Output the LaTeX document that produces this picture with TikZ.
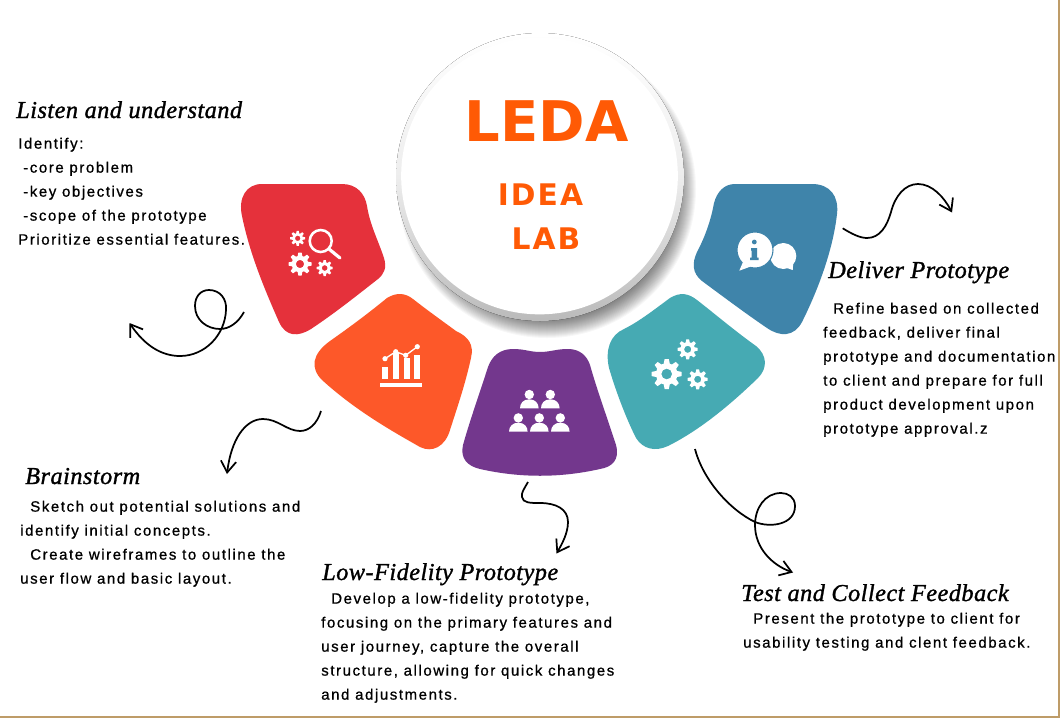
\documentclass[tikz,border=0pt]{standalone}
\usepackage{fontspec}
\usetikzlibrary{arrows.meta}
\usetikzlibrary{positioning}

\newfontfamily\bodyfont[LetterSpace=10.5,FakeBold=0.8]{Liberation Sans}
\newfontfamily\handfont[LetterSpace=2,FakeBold=1.2]{Liberation Serif}
\newfontfamily\titlefont{DejaVu Sans}
\newfontfamily\subtitlefont[LetterSpace=7]{DejaVu Sans}

\definecolor{ledared}{HTML}{E5313B}
\definecolor{ledaorange}{HTML}{FD5829}
\definecolor{ledapurple}{HTML}{73378D}
\definecolor{ledateal}{HTML}{46AAB3}
\definecolor{ledablue}{HTML}{3F84AA}
\definecolor{ledatitle}{HTML}{FF5A05}
\definecolor{ledatan}{HTML}{BE9C68}

\begin{document}
\begin{tikzpicture}[x=0.75pt,y=-0.75pt,
  headline/.style={anchor=base west,inner sep=0pt,font=\handfont\itshape\fontsize{18.2}{22}\selectfont},
  bodytext/.style={anchor=north west,inner sep=0pt,align=left,
   font=\bodyfont\fontsize{11.25}{18}\selectfont},
  squiggle/.style={line width=1.3pt,-{Straight Barb[length=8.5pt,width=11.5pt]}},
  gearicon/.pic={
   \fill[white,even odd rule] (0,0) circle (0.72) (0,0) circle (0.36);
   \foreach \ang in {0,45,...,315}
    \fill[white,rotate=\ang] (-0.22,0.6) -- (-0.14,1) -- (0.14,1) -- (0.22,0.6) -- cycle;
  }]

 \useasboundingbox (0,0) rectangle (1060,718);
 \fill[white] (0,0) rectangle (1060,718);
 \fill[ledatan] (0,716) rectangle (1059.7,718);
 \fill[ledatan] (1058.3,0) rectangle (1059.7,718);

 \foreach \rad in {131,132,...,149}
  \fill[black,opacity=0.03] (547,189) circle (\rad);
 \fill[top color=white,bottom color=black!27,middle color=black!7] (540,177) circle (144);
 \node[circle,fill=white,minimum size=207.5pt,inner sep=0pt] (hub) at (539.5,176) {};

 \node[inner sep=0pt,text=ledatitle,font=\titlefont\bfseries\fontsize{42}{48}\selectfont] (leda) at (546.5,121.5) {LEDA};
 \node[inner sep=0pt,text=ledatitle,font=\subtitlefont\bfseries\fontsize{22.3}{26}\selectfont] (idea) at (540.5,195) {IDEA};
 \node[inner sep=0pt,text=ledatitle,font=\subtitlefont\bfseries\fontsize{22.3}{26}\selectfont] (lab) at (546,239) {LAB};

 \fill[ledared] (262,184) -- (342,184) .. controls (357,184) and (365,194) .. (367,206)
  .. controls (370,225) and (378,240) .. (384,258) .. controls (387,268) and (384,274) .. (378,279)
  .. controls (355,297) and (335,313) .. (311,329) .. controls (298,337) and (286,337) .. (279,322)
  .. controls (265,290) and (250,255) .. (242,216) .. controls (238,198) and (246,184) .. (262,184) -- cycle;
 \fill[ledaorange] (330,341) .. controls (350,327) and (370,312) .. (387,298)
  .. controls (397,292) and (405,293) .. (413,299) .. controls (427,310) and (441,320) .. (456,331)
  .. controls (469,337) and (474,345) .. (471,358) .. controls (465,385) and (458,405) .. (450,430)
  .. controls (445,447) and (432,453) .. (420,447) .. controls (390,430) and (355,410) .. (322,380)
  .. controls (310,368) and (312,354) .. (330,341) -- cycle;
 \fill[ledapurple] (513,349) .. controls (525,349) and (530,352) .. (540,352)
  .. controls (550,352) and (556,349) .. (568,349) .. controls (580,349) and (587,356) .. (590,365)
  .. controls (597,390) and (608,420) .. (616,445) .. controls (620,460) and (612,467) .. (600,469)
  .. controls (560,478) and (520,478) .. (480,469) .. controls (467,466) and (460,458) .. (463,445)
  .. controls (470,420) and (480,392) .. (488,367) .. controls (492,356) and (500,349) .. (513,349) -- cycle;
 \fill[ledateal] (624,329) .. controls (640,321) and (655,309) .. (670,298)
  .. controls (680,292) and (688,293) .. (697,300) .. controls (715,314) and (735,331) .. (756,346)
  .. controls (767,355) and (768,368) .. (758,378) .. controls (730,405) and (700,430) .. (668,446)
  .. controls (655,452) and (643,449) .. (636,438) .. controls (627,420) and (617,395) .. (609,368)
  .. controls (605,350) and (610,335) .. (624,329) -- cycle;
 \fill[ledablue] (735,184) -- (812,184) .. controls (830,184) and (839,196) .. (837,214)
  .. controls (833,250) and (818,290) .. (802,322) .. controls (794,337) and (780,337) .. (767,328)
  .. controls (745,313) and (725,298) .. (702,281) .. controls (692,273) and (692,263) .. (697,252)
  .. controls (705,237) and (711,220) .. (714,203) .. controls (717,192) and (724,184) .. (735,184) -- cycle;

 \pic[scale=7.5] at (297.7,238.3) {gearicon};
 \pic[scale=11.5] at (300,264) {gearicon};
 \pic[scale=8] at (324.7,268) {gearicon};
 \draw[white,line width=1.9pt] (320.7,241) circle (11);
 \draw[white,line width=2.4pt,line cap=round] (329,249) -- (340,258);

 \fill[white] (380,383.3) rectangle (422.3,387.3);
 \foreach \barx/\bartop in {382.3/367,393.3/353,404/358,414.3/355}
  \fill[white] (\barx,\bartop) rectangle ++(5.6,379.3-\bartop);
 \draw[white,line width=1pt] (385,358.7) -- (395.7,351.7) -- (405.7,355.3) -- (417.3,346.7);
 \foreach \dotx/\doty in {385/358.7,395.7/351.7,405.7/355.3,417.3/346.7}
  \fill[white] (\dotx,\doty) circle (2.6);

 \foreach \px/\py in {529.3/408.3,550.3/408.3,518.3/431.7,539.3/431.7,560.3/431.7}{
  \fill[white] (\px,\py-13.8) circle (4.7);
  \fill[white] (\px-9.3,\py) .. controls (\px-9.3,\py-5) and (\px-6,\py-9) .. (\px,\py-9)
   .. controls (\px+6,\py-9) and (\px+9.3,\py-5) .. (\px+9.3,\py) -- cycle;
 }

 \pic[scale=15] at (666.7,374) {gearicon};
 \pic[scale=10] at (687.7,349.3) {gearicon};
 \pic[scale=10] at (697.7,379.3) {gearicon};

 \fill[white] (783.3,256) circle (13);
 \fill[white] (781,266) -- (792.7,270) -- (794,254) -- cycle;
 \fill[white,draw=ledablue,line width=0.8pt] (755,250) circle (18);
 \fill[white] (743,262) -- (739.3,270.7) -- (752,266) -- cycle;
 \fill[ledablue] (754.3,242) circle (2.4);
 \fill[ledablue] (751,248) -- (757,248) -- (757,257.5) -- (758.5,257.5) -- (758.5,260)
  -- (750,260) -- (750,257.5) -- (751.5,257.5) -- (751.5,250.5) -- (751,250.5) -- cycle;

 \coordinate (listenfrom) at (244,312);
 \coordinate (listento) at (129.5,323);
 \draw[squiggle] (listenfrom) .. controls (238,323) and (229,329) .. (220,329)
  .. controls (207,329) and (195,320) .. (195,306) .. controls (195,296) and (201,290) .. (209,290)
  .. controls (220,290) and (227,299) .. (226,310) .. controls (225,335) and (205,356) .. (180,356)
  .. controls (162,356) and (145,346) .. (listento);

 \coordinate (brainfrom) at (321,411);
 \coordinate (brainto) at (227,474);
 \draw[squiggle] (brainfrom) .. controls (317,424) and (309,431) .. (300,431)
  .. controls (287,431) and (278,419) .. (263,419) .. controls (245,419) and (231,440) .. (brainto);

 \coordinate (lowfrom) at (528,482);
 \coordinate (lowto) at (556.5,553.5);
 \draw[squiggle] (lowfrom) .. controls (524,489) and (521,493) .. (522,497)
  .. controls (523,503) and (530,503) .. (540,503) .. controls (556,503) and (568,509) .. (568,522)
  .. controls (568,533) and (562,544) .. (lowto);

 \coordinate (testfrom) at (695,449);
 \coordinate (testto) at (793,572.5);
 \draw[squiggle] (testfrom) .. controls (703,480) and (730,510) .. (755,522)
  .. controls (770,528) and (795,525) .. (795,506) .. controls (795,497) and (788,493) .. (781,493)
  .. controls (765,493) and (755,508) .. (755,525) .. controls (755,548) and (772,565) .. (testto);

 \coordinate (deliverfrom) at (842.7,228.3);
 \coordinate (deliverto) at (952,212.5);
 \draw[squiggle] (deliverfrom) .. controls (852,234) and (860,238) .. (867,238)
  .. controls (880,238) and (887,226) .. (891,212) .. controls (895,196) and (905,184) .. (918,184)
  .. controls (932,184) and (944,197) .. (deliverto);

 \node[headline] (listenhead) at (16,118) {Listen and understand};
 \node[bodytext] (listentext) at (18,137.5) {Identify:\\
  \hspace*{3.75pt}-core problem\\
  \hspace*{3.75pt}-key objectives\\
  \hspace*{3.75pt}-scope of the prototype\\
  Prioritize essential features.};

 \node[headline] (brainhead) at (25,484) {Brainstorm};
 \node[bodytext] (braintext) at (20,500.5) {\hspace*{7.5pt}Sketch out potential solutions and\\
  identify initial concepts.\\
  \hspace*{7.5pt}Create wireframes to outline the\\
  user flow and basic layout.};

 \node[headline] (lowhead) at (322,580) {Low-Fidelity Prototype};
 \node[bodytext] (lowtext) at (321,592.5) {\hspace*{7.5pt}Develop a low-fidelity prototype,\\
  focusing on the primary features and\\
  user journey, capture the overall\\
  structure, allowing for quick changes\\
  and adjustments.};

 \node[headline] (testhead) at (741,601) {Test and Collect Feedback};
 \node[bodytext] (testtext) at (743,612.5) {\hspace*{7.5pt}Present the prototype to client for\\
  usability testing and clent feedback.};

 \node[headline] (deliverhead) at (828,278) {Deliver Prototype};
 \node[bodytext] (delivertext) at (823,302.5) {\hspace*{7.5pt}Refine based on collected\\
  feedback, deliver final\\
  prototype and documentation\\
  to client and prepare for full\\
  product development upon\\
  prototype approval.z};
\end{tikzpicture}
\end{document}
